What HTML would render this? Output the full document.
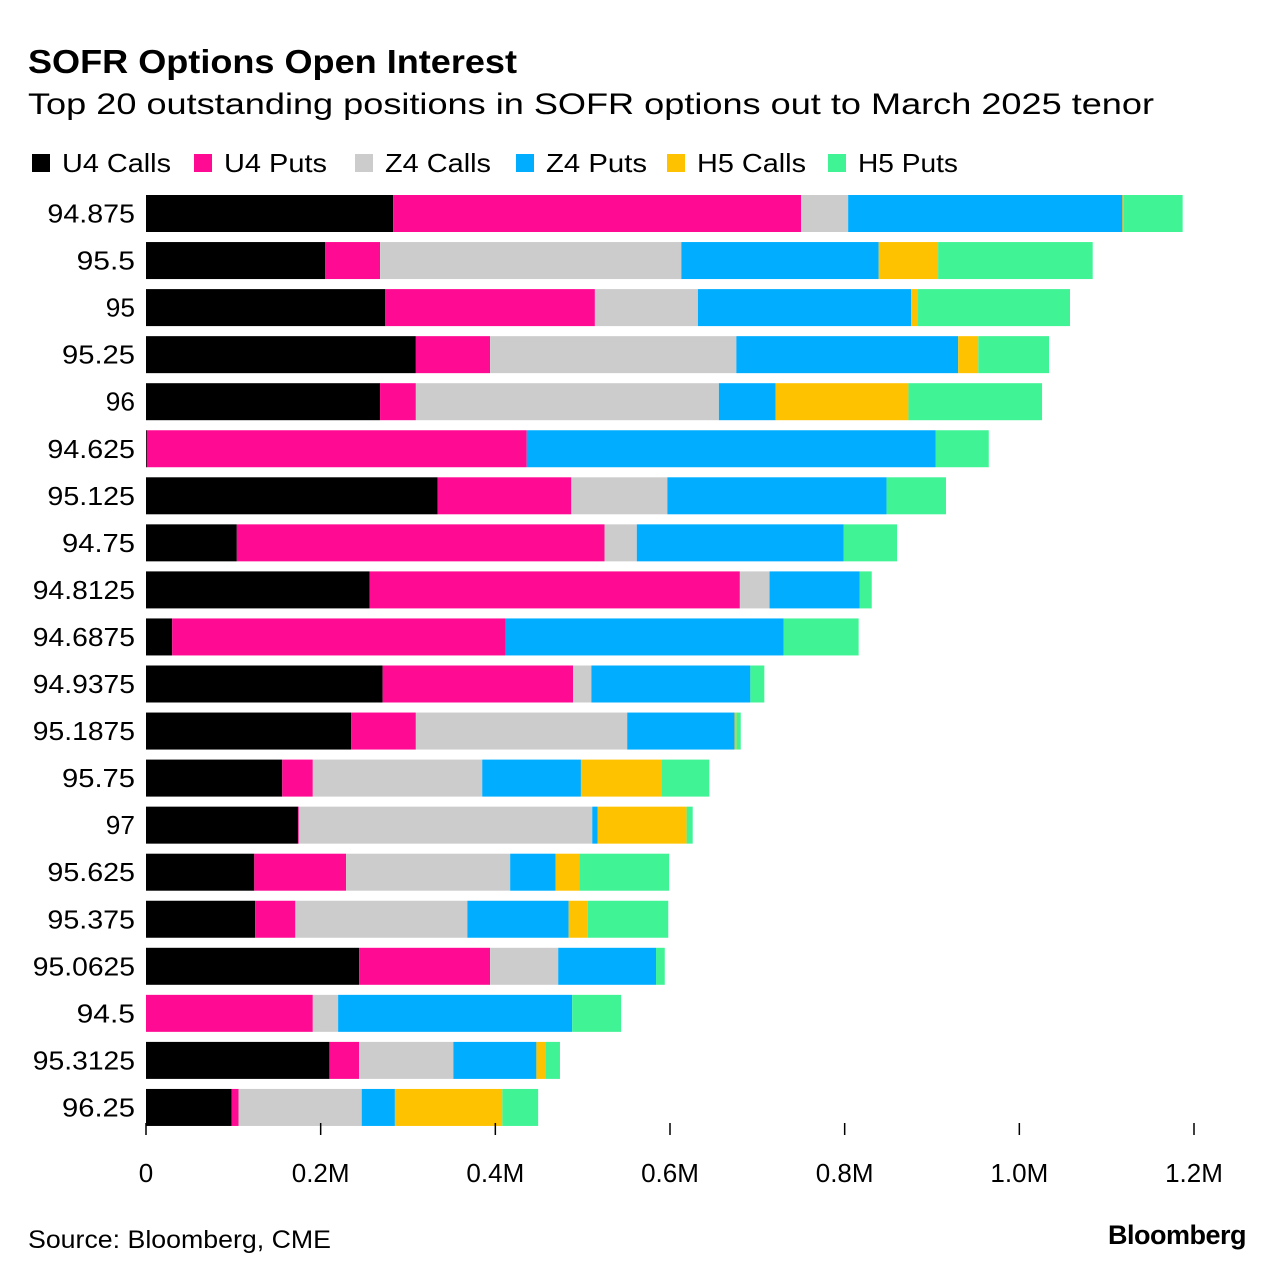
<!DOCTYPE html>
<html><head><meta charset="utf-8">
<style>
body{margin:0;background:#fff;font-family:"Liberation Sans",Arial,sans-serif;}
#wrap{position:relative;width:1285px;height:1280px;overflow:hidden;}
</style></head>
<body>
<div id="wrap">
<svg id="chart" width="1285" height="1280" xmlns="http://www.w3.org/2000/svg">
<text x="28" y="73" font-size="33" font-weight="bold" fill="#000" textLength="489" lengthAdjust="spacingAndGlyphs">SOFR Options Open Interest</text>
<text x="28" y="114" font-size="30" fill="#000" textLength="1126" lengthAdjust="spacingAndGlyphs">Top 20 outstanding positions in SOFR options out to March 2025 tenor</text>
<g id="legend"></g>
<g id="bars"></g>
<g id="yaxis"></g>
<g id="xaxis"></g>
<text x="28" y="1248" font-size="25" fill="#000" textLength="303" lengthAdjust="spacingAndGlyphs">Source: Bloomberg, CME</text>
<text x="1246" y="1244" font-size="27" font-weight="bold" text-anchor="end" fill="#000" letter-spacing="-0.5">Bloomberg</text>
</svg>
</div>
<script>
const categories=["94.875","95.5","95","95.25","96","94.625","95.125","94.75","94.8125","94.6875","94.9375","95.1875","95.75","97","95.625","95.375","95.0625","94.5","95.3125","96.25"];
const seriesNames=["U4 Calls","U4 Puts","Z4 Calls","Z4 Puts","H5 Calls","H5 Puts"];
const seriesColors=["#000000","#ff0a93","#cccccc","#00adff","#ffc200","#40f395"];
// values in thousands of contracts
const u4Calls=[283,205,274,309,268,1,334,104,256,30,271,235,156,174,124,125,244,0,210,98];
const u4Puts=[467,63,240,85,41,435,153,421,424,382,218,74,35,1,105,46,150,191,34,8];
const z4Calls=[54,345,118,282,347,0,110,37,34,0,21,242,194,336,188,197,78,29,108,141];
const z4Puts=[314,226,244,254,65,468,251,237,103,318,182,123,113,6,52,116,112,268,95,38];
const h5Calls=[1,68,8,23,152,0,0,0,0,0,0,2,92,102,27,22,0,0,11,123];
const h5Puts=[68,177,174,81,153,61,68,61,14,86,16,5,55,7,103,92,10,56,16,41];
const series=[u4Calls,u4Puts,z4Calls,z4Puts,h5Calls,h5Puts];
const xTicks=[0,200,400,600,800,1000,1200];
const xTickLabels=["0","0.2M","0.4M","0.6M","0.8M","1.0M","1.2M"];

const NS="http://www.w3.org/2000/svg";
const x0=146,x1=1194,xMax=1200;
const xScale=v=>x0+v/xMax*(x1-x0);
const rowTop=195,rowStep=47.05,barH=37;
const yScale=i=>rowTop+i*rowStep;
function mk(tag,attrs,parent){const e=document.createElementNS(NS,tag);for(const k in attrs)e.setAttribute(k,attrs[k]);parent.appendChild(e);return e;}

const legend=document.getElementById('legend');
const legendX=[32,194,355,516,667,828];
const legendW=[109,103,106,101,109,100];
seriesNames.forEach((n,i)=>{
  const r=mk('rect',{x:legendX[i],y:154,width:18,height:18,fill:seriesColors[i]},legend);
  
  
  const t=mk('text',{x:legendX[i]+30,y:172,'font-size':26,fill:'#000',textLength:legendW[i],lengthAdjust:'spacingAndGlyphs'},legend);
  t.textContent=n;
  
  
});

const bars=document.getElementById('bars'),yaxis=document.getElementById('yaxis');
categories.forEach((c,i)=>{
  let acc=0;const y=yScale(i);
  series.forEach((s,j)=>{
    const v=s[i];
    if(v>0){
      const r=mk('rect',{x:xScale(acc),y:y,width:xScale(acc+v)-xScale(acc),height:barH,fill:seriesColors[j]},bars);
      
      
    }
    acc+=v;
  });
  const t=mk('text',{x:135,y:y+barH/2+9,'font-size':26,'text-anchor':'end',fill:'#000',textLength:c.length*14.6,lengthAdjust:'spacingAndGlyphs'},yaxis);
  t.textContent=c;
  
  
});

const xaxis=document.getElementById('xaxis');
xTicks.forEach((v,i)=>{
  const l=mk('line',{x1:xScale(v),x2:xScale(v),y1:1123,y2:1135,stroke:'#000','stroke-width':1.5},xaxis);
  
  
  const t=mk('text',{x:xScale(v),y:1182,'font-size':26,'text-anchor':'middle',fill:'#000'},xaxis);
  t.textContent=xTickLabels[i];
  
  
});
</script>
</body></html>
